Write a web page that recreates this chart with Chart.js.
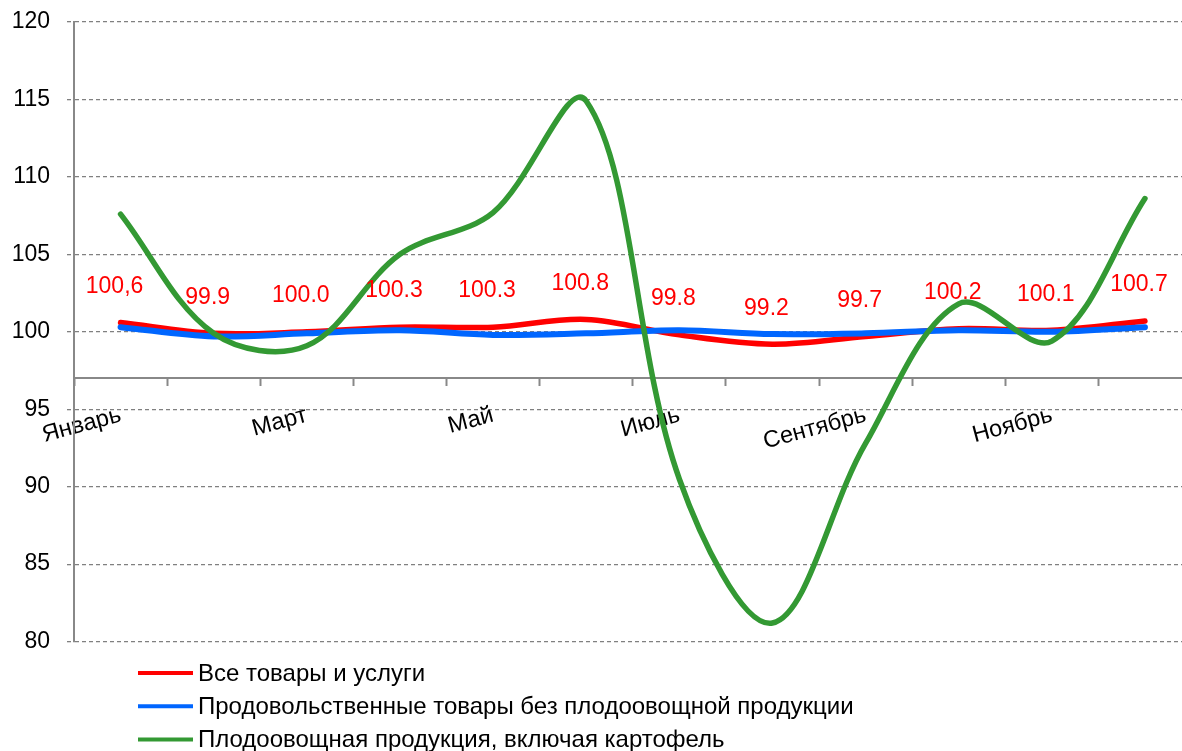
<!DOCTYPE html>
<html>
<head>
<meta charset="utf-8">
<script src="https://cdn.jsdelivr.net/npm/chart.js@4"></script>
<style>
html,body{margin:0;padding:0;overflow:hidden;background:#fff;width:1182px;height:751px}
canvas{display:block}
</style>
</head>
<body>
<canvas id="c" width="1200" height="751" style="width:1200px;height:751px"></canvas>
<script>
const months = ['Январь','Февраль','Март','Апрель','Май','Июнь','Июль','Август','Сентябрь','Октябрь','Ноябрь','Декабрь'];
const seriesNames = ['Все товары и услуги','Продовольственные товары без плодоовощной продукции','Плодоовощная продукция, включая картофель'];
const allGoods = [100.6, 99.9, 100.0, 100.3, 100.3, 100.8, 99.8, 99.2, 99.7, 100.2, 100.1, 100.7];
const foodExclFruitVeg = [100.3, 99.7, 99.9, 100.1, 99.8, 99.9, 100.1, 99.85, 99.9, 100.1, 100.0, 100.3];
const fruitVeg = [107.6, 99.9, 99.1, 105.0, 107.7, 114.9, 90.5, 81.2, 92.8, 101.8, 99.4, 108.6];
const allGoodsLabels = ['100,6','99.9','100.0','100.3','100.3','100.8','99.8','99.2','99.7','100.2','100.1','100.7'];
const yMin = 80, yMax = 120, yStep = 5, xAxisCross = 97;
const colors = ['#ff0000','#0066ff','#339933'];

const FONT = '"Liberation Sans", Arial, sans-serif';

const dataLabelPlugin = {
  id: 'dataLabels',
  afterDatasetsDraw(chart) {
    const ctx = chart.ctx;
    const meta = chart.getDatasetMeta(0);
    ctx.save();
    ctx.font = '23px ' + FONT;
    ctx.fillStyle = '#ff0000';
    ctx.textAlign = 'center';
    ctx.textBaseline = 'middle';
    meta.data.forEach((pt, i) => {
      ctx.fillText(allGoodsLabels[i], pt.x - 6, pt.y - 36);
    });
    ctx.restore();
  }
};

const legendPlugin = {
  id: 'customLegend',
  afterDraw(chart) {
    const ctx = chart.ctx;
    ctx.save();
    ctx.font = '24px ' + FONT;
    ctx.textBaseline = 'middle';
    ctx.textAlign = 'left';
    chart.data.datasets.forEach((ds, i) => {
      const y = 673 + i * 33.2;
      ctx.strokeStyle = ds.borderColor;
      ctx.lineWidth = 4;
      ctx.beginPath();
      ctx.moveTo(138, y);
      ctx.lineTo(193, y);
      ctx.stroke();
      ctx.fillStyle = '#000';
      ctx.fillText(ds.label, 198, y + 1);
    });
    ctx.restore();
  }
};

new Chart(document.getElementById('c'), {
  type: 'line',
  data: {
    labels: months,
    datasets: [
      { label: seriesNames[0], data: allGoods, borderColor: colors[0], backgroundColor: colors[0], borderWidth: 5.5, order: 3 },
      { label: seriesNames[1], data: foodExclFruitVeg, borderColor: colors[1], backgroundColor: colors[1], borderWidth: 6, order: 2 },
      { label: seriesNames[2], data: fruitVeg, borderColor: colors[2], backgroundColor: colors[2], borderWidth: 5.5, order: 1 }
    ]
  },
  options: {
    responsive: false,
    animation: false,
    devicePixelRatio: 1,
    layout: { padding: { top: 22, right: 8.5, bottom: 109.4, left: 0 } },
    elements: {
      point: { radius: 0, hoverRadius: 0 },
      line: { tension: 0.35, borderCapStyle: 'round', borderJoinStyle: 'round', fill: false }
    },
    plugins: { legend: { display: false }, tooltip: { enabled: false } },
    scales: {
      x: {
        type: 'category',
        position: { y: xAxisCross },
        offset: true,
        grid: { display: true, offset: true, drawOnChartArea: false, drawTicks: true, tickLength: 7, tickColor: '#888', tickWidth: 2 },
        border: { display: true, color: '#888', width: 2 },
        ticks: {
          autoSkip: false,
          minRotation: 15,
          maxRotation: 15,
          padding: 16,
          color: '#000',
          font: { family: FONT, size: 23.5 },
          callback: function(v, i) { return i % 2 === 0 ? months[i] : ''; }
        }
      },
      y: {
        min: yMin,
        max: yMax,
        afterFit(scale) { scale.width = 74; scale.paddingTop = 0; scale.paddingBottom = 0; },
        afterBuildTicks(scale) {
          const t = [];
          for (let v = yMin; v <= yMax; v += yStep) t.push({ value: v });
          scale.ticks = t;
        },
        grid: { color: '#808080', lineWidth: 1.3, tickLength: 7, tickColor: '#808080', tickWidth: 1.3, tickBorderDash: [4, 3] },
        border: { display: true, color: '#888', width: 2, dash: [4, 3] },
        ticks: {
          padding: 17,
          color: '#000',
          font: { family: FONT, size: 23 }
        }
      }
    }
  },
  plugins: [dataLabelPlugin, legendPlugin]
});
</script>
</body>
</html>
